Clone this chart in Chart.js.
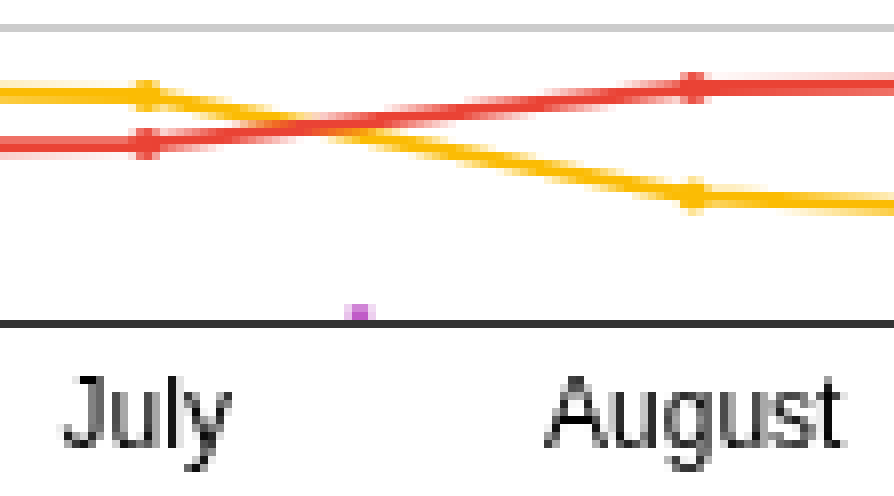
<!DOCTYPE html>
<html>
<head>
<meta charset="utf-8">
<script src="https://cdn.jsdelivr.net/npm/chart.js@4/dist/chart.umd.min.js"></script>
<style>
  html, body { margin: 0; padding: 0; background: #fff; overflow: hidden; }
  #hidden { position: absolute; left: -2000px; top: 0; }
  #big { display: block; }
</style>
</head>
<body>
<div id="hidden"><canvas id="chart" width="112" height="62"></canvas></div>
<canvas id="big" width="896" height="496"></canvas>
<script>
var months = ["June", "July", "August", "September"];
var redValues = [59, 60.5, 80, 82];
var yellowValues = [80, 77, 43, 34];
// small purple bar sitting on the axis between July and August
var purpleX = [1.39];
var purpleValues = [5.5];
var yMin = 0, yMax = 100;
var xMin = 0.7336, xMax = 2.3686;

function points(values) {
  return values.map(function(v, i) { return { x: i, y: v }; });
}

var small = document.getElementById("chart");
var chart = new Chart(small, {
  type: "line",
  data: {
    datasets: [
      {
        label: "Red",
        data: points(redValues),
        borderColor: "#ea4335",
        backgroundColor: "#ea4335",
        borderWidth: 2,
        pointRadius: 2,
        pointBorderWidth: 0,
        tension: 0
      },
      {
        label: "Yellow",
        data: points(yellowValues),
        borderColor: "#fbbc04",
        backgroundColor: "#fbbc04",
        borderWidth: 2,
        pointRadius: 2,
        pointBorderWidth: 0,
        tension: 0
      },
      {
        type: "bar",
        label: "Purple",
        data: purpleX.map(function(x, i) { return { x: x, y: purpleValues[i] }; }),
        backgroundColor: "#c05bc8",
        barThickness: 2,
        grouped: false
      }
    ]
  },
  options: {
    responsive: false,
    devicePixelRatio: 1,
    animation: false,
    events: [],
    layout: { autoPadding: false, padding: { top: 3.5, left: 0, right: 0, bottom: 0 } },
    plugins: {
      legend: { display: false },
      tooltip: { enabled: false }
    },
    scales: {
      x: {
        type: "linear",
        min: xMin,
        max: xMax,
        offset: false,
        grid: { display: false, drawTicks: false },
        border: { color: "#333", width: 1, z: 1 },
        ticks: {
          stepSize: 1,
          includeBounds: false,
          autoSkip: false,
          maxRotation: 0,
          padding: 5,
          color: "#000",
          font: { family: "'Liberation Sans', Arial, sans-serif", size: 12 },
          callback: function(v) { return months[v]; }
        },
        afterFit: function(scale) { scale.height = 21.5; }
      },
      y: {
        min: yMin,
        max: yMax,
        ticks: { display: false, stepSize: yMax },
        grid: { color: "#cccccc", drawTicks: false },
        border: { display: false }
      }
    }
  }
});

// the reference is this small chart blown up 8x with hard pixels
var big = document.getElementById("big");
var bctx = big.getContext("2d");
bctx.imageSmoothingEnabled = false;
bctx.fillStyle = "#fff";
bctx.fillRect(0, 0, big.width, big.height);
bctx.drawImage(small, 0, 0, 112 * 8, 62 * 8);
</script>
</body>
</html>
